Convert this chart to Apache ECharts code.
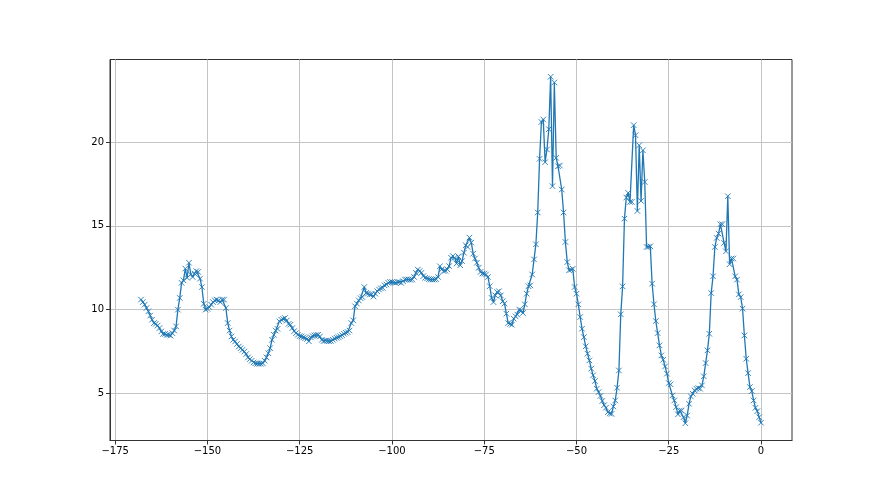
<!DOCTYPE html>
<html>
<head>
<meta charset="utf-8">
<script src="https://cdn.jsdelivr.net/npm/echarts@6/dist/echarts.min.js"></script>
<style>html,body{margin:0;padding:0;background:#fff}#c{width:880px;height:495px}</style>
</head>
<body>
<div id="c"></div>
<script>
const xs = [
-168,-167.5,-167,-166.5,-166,-165.5,-165,-164.5,-164,-163.5,
-163,-162.5,-162,-161.5,-161,-160.5,-160,-159.5,-159,-158.5,
-158,-157.5,-157,-156.5,-156,-155.5,-155,-154.5,-154,-153.5,
-153,-152.5,-152,-151.5,-151,-150.5,-150,-149.5,-149,-148.5,
-148,-147.5,-147,-146.5,-146,-145.5,-145,-144.5,-144,-143.5,
-143,-142.5,-142,-141.5,-141,-140.5,-140,-139.5,-139,-138.5,
-138,-137.5,-137,-136.5,-136,-135.5,-135,-134.5,-134,-133.5,
-133,-132.5,-132,-131.5,-131,-130.5,-130,-129.5,-129,-128.5,
-128,-127.5,-127,-126.5,-126,-125.5,-125,-124.5,-124,-123.5,
-123,-122.5,-122,-121.5,-121,-120.5,-120,-119.5,-119,-118.5,
-118,-117.5,-117,-116.5,-116,-115.5,-115,-114.5,-114,-113.5,
-113,-112.5,-112,-111.5,-111,-110.5,-110,-109.5,-109,-108.5,
-108,-107.5,-107,-106.5,-106,-105.5,-105,-104.5,-104,-103.5,
-103,-102.5,-102,-101.5,-101,-100.5,-100,-99.5,-99,-98.5,
-98,-97.5,-97,-96.5,-96,-95.5,-95,-94.5,-94,-93.5,
-93,-92.5,-92,-91.5,-91,-90.5,-90,-89.5,-89,-88.5,
-88,-87.5,-87,-86.5,-86,-85.5,-85,-84.5,-84,-83.5,
-83,-82.5,-82,-81.5,-81,-80.5,-80,-79.5,-79,-78.5,
-78,-77.5,-77,-76.5,-76,-75.5,-75,-74.5,-74,-73.5,
-73,-72.5,-72,-71.5,-71,-70.5,-70,-69.5,-69,-68.5,
-68,-67.5,-67,-66.5,-66,-65.5,-65,-64.5,-64,-63.5,
-63,-62.5,-62,-61.5,-61,-60.5,-60,-59.5,-59,-58.5,
-58,-57.5,-57,-56.5,-56,-55.5,-55,-54.5,-54,-53.5,
-53,-52.5,-52,-51.5,-51,-50.5,-50,-49.5,-49,-48.5,
-48,-47.5,-47,-46.5,-46,-45.5,-45,-44.5,-44,-43.5,
-43,-42.5,-42,-41.5,-41,-40.5,-40,-39.5,-39,-38.5,
-38,-37.5,-37,-36.5,-36,-35.5,-35,-34.5,-34,-33.5,
-33,-32.5,-32,-31.5,-31,-30.5,-30,-29.5,-29,-28.5,
-28,-27.5,-27,-26.5,-26,-25.5,-25,-24.5,-24,-23.5,
-23,-22.5,-22,-21.5,-21,-20.5,-20,-19.5,-19,-18.5,
-18,-17.5,-17,-16.5,-16,-15.5,-15,-14.5,-14,-13.5,
-13,-12.5,-12,-11.5,-11,-10.5,-10,-9.5,-9,-8.5,
-8,-7.5,-7,-6.5,-6,-5.5,-5,-4.5,-4,-3.5,
-3,-2.5,-2,-1.5,-1,-0.5,0
];
const ys = [
10.6,10.45,10.3,10.1,9.9,9.65,9.4,9.2,9.15,9.05,
8.9,8.7,8.55,8.55,8.5,8.5,8.45,8.6,8.75,9.0,
10.0,10.7,11.6,11.75,12.45,11.9,12.8,12.1,11.95,12.15,
12.3,12.25,11.85,11.35,10.35,10.0,10.05,10.15,10.3,10.45,
10.55,10.6,10.55,10.45,10.6,10.6,10.1,9.2,8.75,8.4,
8.2,8.1,7.95,7.8,7.7,7.6,7.5,7.35,7.15,7.05,
6.95,6.85,6.8,6.77,6.77,6.77,6.8,6.95,7.15,7.4,
7.7,8.2,8.5,8.75,8.85,9.3,9.4,9.45,9.5,9.35,
9.15,9.1,8.9,8.72,8.6,8.5,8.42,8.4,8.35,8.3,
8.25,8.11,8.35,8.42,8.46,8.48,8.5,8.4,8.2,8.13,
8.15,8.13,8.12,8.13,8.2,8.27,8.32,8.36,8.42,8.48,
8.56,8.62,8.66,8.75,9.2,9.36,10.2,10.36,10.55,10.68,
10.75,11.35,11.0,10.96,10.9,10.92,10.78,10.95,11.1,11.2,
11.27,11.3,11.45,11.5,11.6,11.65,11.65,11.62,11.6,11.65,
11.65,11.6,11.7,11.8,11.8,11.8,11.78,11.8,11.95,12.2,
12.39,12.3,12.2,12.0,11.9,11.86,11.82,11.8,11.8,11.8,
11.82,11.95,12.59,12.4,12.3,12.32,12.4,12.6,13.1,13.2,
13.1,12.75,13.18,12.65,12.9,13.4,13.84,13.74,14.3,14.0,
13.34,13.05,12.8,12.5,12.25,12.15,12.15,12.1,11.95,11.4,
10.7,10.45,10.85,11.05,11.1,10.85,10.5,10.36,9.76,9.2,
9.15,9.1,9.46,9.6,9.7,10.0,9.96,9.8,10.32,10.95,
11.4,11.45,12.1,13.0,13.9,15.8,19.0,21.2,21.35,18.8,
19.56,20.77,23.9,17.37,23.56,19.06,18.56,18.6,17.17,15.8,
14.04,12.84,12.35,12.38,12.44,11.35,10.95,10.32,9.56,8.86,
8.36,7.81,7.37,6.97,6.48,6.08,5.74,5.28,5.08,4.85,
4.55,4.3,4.15,3.88,3.8,3.78,4.22,4.58,5.34,6.37,
9.72,11.39,15.43,16.69,16.97,16.43,16.43,21.01,20.41,15.89,
19.81,16.49,19.51,17.62,13.74,13.74,13.78,11.55,10.32,9.32,
8.6,7.87,7.27,7.01,6.61,6.18,5.62,5.54,4.88,4.58,
4.18,3.75,3.98,3.98,3.58,3.22,3.68,4.38,4.82,4.98,
5.18,5.28,5.32,5.28,5.48,6.02,6.81,7.57,8.56,10.99,
11.99,13.74,14.28,14.54,15.1,15.1,13.98,13.48,16.77,12.71,
13.05,13.05,11.99,11.79,10.91,10.75,10.06,8.46,7.07,6.21,
5.38,5.14,4.58,4.14,3.94,3.58,3.25
];
const xTicks = [-175,-150,-125,-100,-75,-50,-25,0];
const yTicks = [5,10,15,20];

const points = xs.map((x, i) => [x, ys[i]]);
const fmt = v => String(v).replace('-', '\u2212');
const labelStyle = {color:'#000', fontSize:10, fontFamily:'DejaVu Sans'};

const chart = echarts.init(document.getElementById('c'), null, {renderer:'canvas'});
chart.setOption({
  animation:false,
  backgroundColor:'#fff',
  grid:{left:110, right:88, top:59.5, bottom:54.5, show:true, borderColor:'#333', borderWidth:1},
  xAxis:{
    type:'value', min:-176.4, max:8.4,
    axisLine:{show:true, onZero:false, lineStyle:{color:'#333', width:1}},
    axisTick:{show:true, length:4, lineStyle:{color:'#333', width:1}, customValues:xTicks},
    axisLabel:Object.assign({customValues:xTicks, formatter:fmt, margin:6}, labelStyle),
    splitLine:{show:true, lineStyle:{color:'#c4c4c4', width:1}}
  },
  yAxis:{
    type:'value', min:2.19, max:24.93,
    axisLine:{show:true, onZero:false, lineStyle:{color:'#333', width:1}},
    axisTick:{show:true, length:4, lineStyle:{color:'#333', width:1}, customValues:yTicks},
    axisLabel:Object.assign({customValues:yTicks, formatter:fmt, margin:6}, labelStyle),
    splitLine:{show:true, lineStyle:{color:'#c4c4c4', width:1}}
  },
  series:[{
    type:'line',
    data:points,
    showAllSymbol:true,
    symbol:'path://M0,0L10,10M10,0L0,10',
    symbolSize:5.5,
    itemStyle:{color:'#1f77b4', borderColor:'#1f77b4', borderWidth:0.9},
    lineStyle:{color:'#1f77b4', width:1.3},
    emphasis:{disabled:true}
  }]
});
</script>
</body>
</html>
